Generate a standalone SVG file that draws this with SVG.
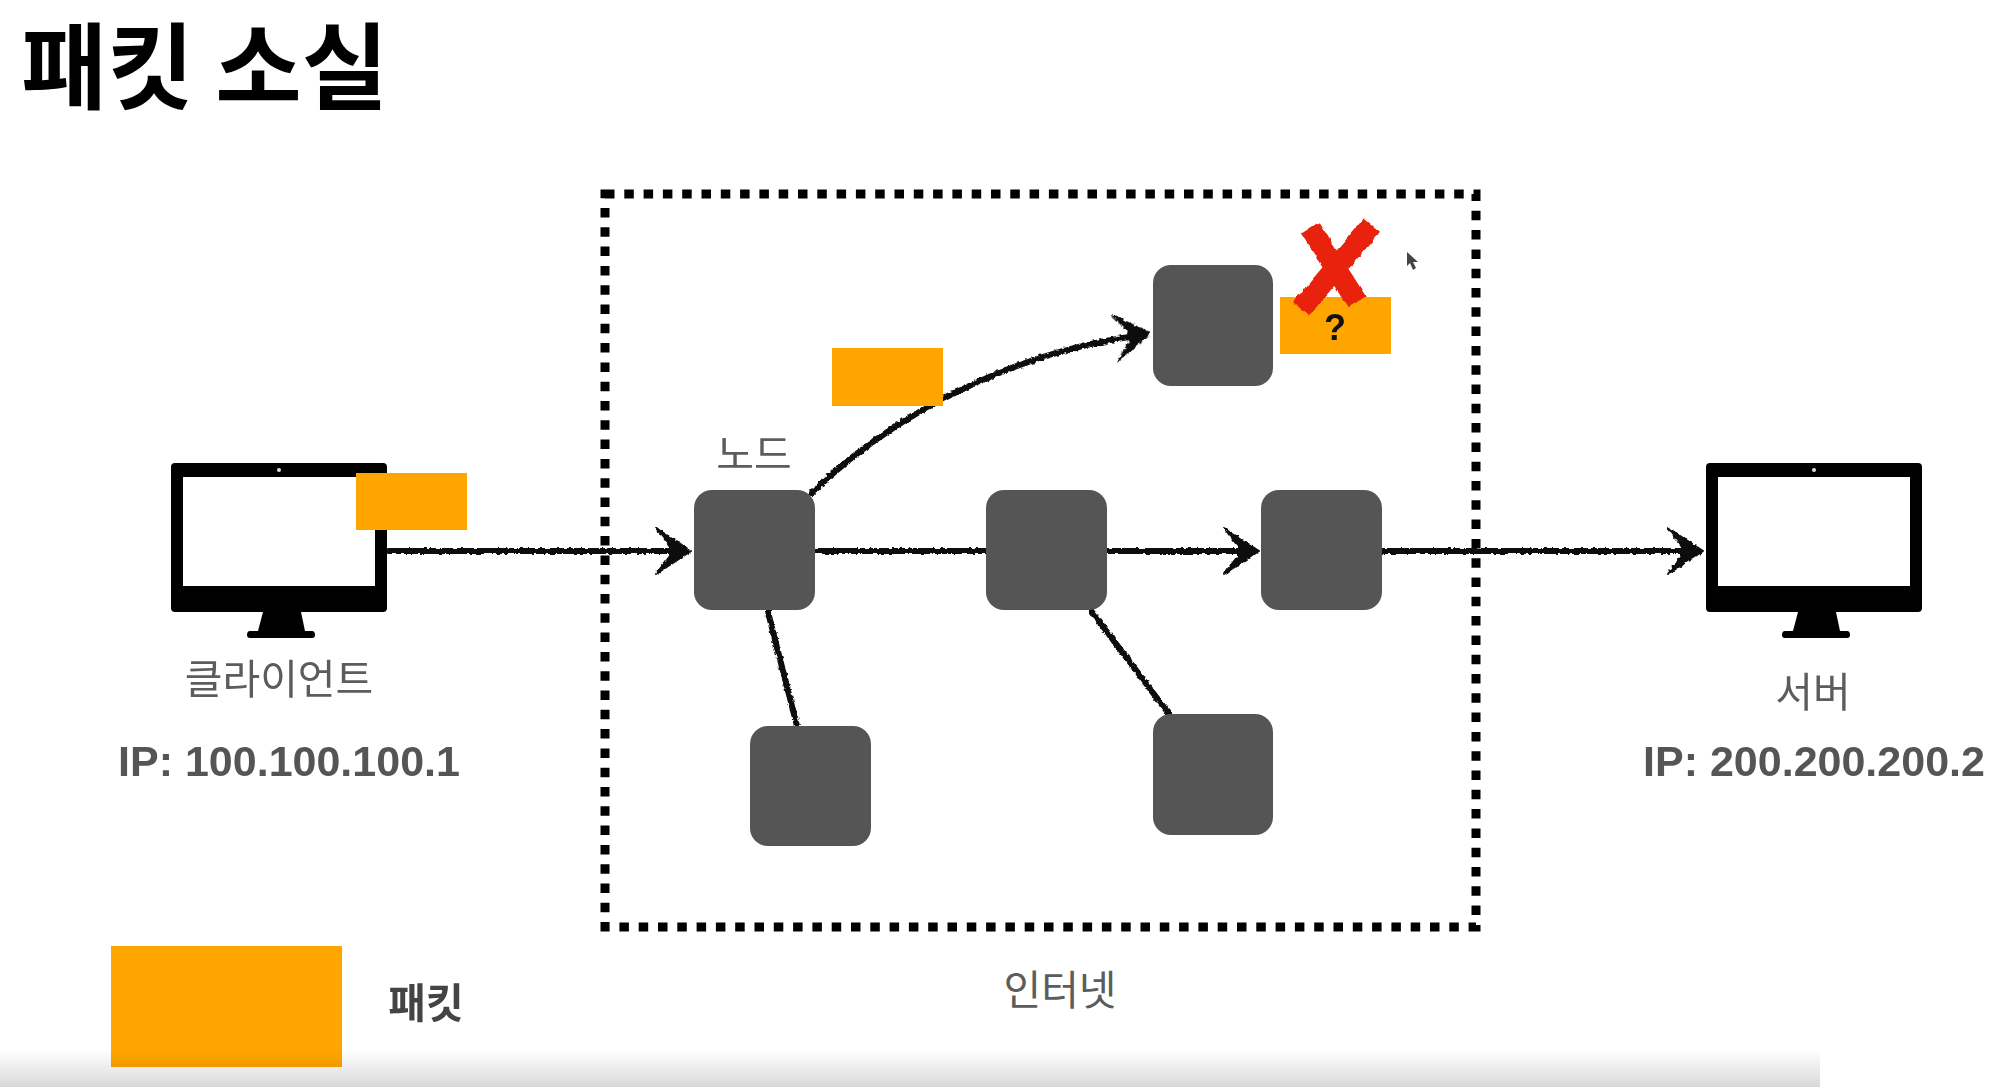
<svg xmlns="http://www.w3.org/2000/svg" width="2000" height="1087" viewBox="0 0 2000 1087">
<defs>
<style>
.node{fill:#555;}
.pkt{fill:#ffa500;}
.lbl{font-family:"Noto Sans CJK KR","Liberation Sans",sans-serif;fill:#5c5c5c;font-size:41px;text-anchor:middle;}
.ip{font-family:"Liberation Sans","Noto Sans CJK KR",sans-serif;fill:#555;font-size:43px;font-weight:700;text-anchor:middle;}
.line{fill:none;stroke:#0a0a0a;stroke-width:6;stroke-linecap:round;}
.head{fill:#0a0a0a;stroke:#0a0a0a;stroke-width:2;stroke-linejoin:round;}
</style>
<linearGradient id="fade" x1="0" y1="0" x2="0" y2="1"><stop offset="0" stop-color="#000" stop-opacity="0"/><stop offset="1" stop-color="#000" stop-opacity="0.15"/></linearGradient>
<filter id="rough" filterUnits="userSpaceOnUse" x="0" y="0" width="2000" height="1087"><feTurbulence type="fractalNoise" baseFrequency="0.25" numOctaves="2" seed="3"/><feDisplacementMap in="SourceGraphic" scale="4" xChannelSelector="R" yChannelSelector="G"/></filter>
<filter id="roughX" filterUnits="userSpaceOnUse" x="1280" y="200" width="120" height="130"><feTurbulence type="fractalNoise" baseFrequency="0.12" numOctaves="2" seed="5"/><feDisplacementMap in="SourceGraphic" scale="4" xChannelSelector="R" yChannelSelector="G"/></filter>
<path id="head" class="head" d="M-36,-23 L-1,0 L-36,23 L-22,5 L-22,-5 Z"/>
<g id="monitor">
<path fill="#000" fill-rule="evenodd" d="M4,0 H212 Q216,0 216,4 V145 Q216,149 212,149 H130 L134,168 H141 Q144,168 144,172 Q144,175 141,175 H79 Q76,175 76,172 Q76,168 79,168 H87 L92,149 H4 Q0,149 0,145 V4 Q0,0 4,0 Z M12,14 V123 H204 V14 Z"/>
<circle cx="108" cy="7" r="2" fill="#ddd"/>
</g>
</defs>
<rect width="2000" height="1087" fill="#fff"/>
<text id="title" x="21" y="102" font-family="'Noto Sans CJK KR',sans-serif" font-size="94" font-weight="700" fill="#000">패킷 소실</text>
<g id="internet">
<rect x="605" y="194" width="871" height="733" fill="none" stroke="#000" stroke-width="9" stroke-dasharray="9.5 9.8"/>
<text class="lbl" x="1060" y="1005">인터넷</text>
</g>
<g id="connectors">
<g filter="url(#rough)">
<path class="line" d="M389,551 H675"/>
<path class="line" d="M812,493 C880,425 1000,355 1135,336"/>
<path class="line" d="M815,551 H1245"/>
<path class="line" d="M1382,551 H1690"/>
<path class="line" d="M768,612 L797,726"/>
<path class="line" d="M1092,612 L1169,714"/>
<use href="#head" transform="translate(692,551)"/>
<use href="#head" transform="translate(1151,333) rotate(-8)"/>
<use href="#head" transform="translate(1260,551)"/>
<use href="#head" transform="translate(1704,551)"/>
</g>
</g>
<g id="client">
<use href="#monitor" x="171" y="463"/>
<text class="lbl" x="279" y="694">클라이언트</text>
<text class="ip" x="289" y="776">IP: 100.100.100.1</text>
</g>
<g id="server">
<use href="#monitor" x="1706" y="463"/>
<text class="lbl" x="1813" y="707">서버</text>
<text class="ip" x="1814" y="776">IP: 200.200.200.2</text>
</g>
<g id="node-top"><rect class="node" x="1153" y="265" width="120" height="121" rx="18"/></g>
<g id="node-a"><rect class="node" x="694" y="490" width="121" height="120" rx="18"/><text class="lbl" x="754" y="469">노드</text></g>
<g id="node-b"><rect class="node" x="986" y="490" width="121" height="120" rx="18"/></g>
<g id="node-c"><rect class="node" x="1261" y="490" width="121" height="120" rx="18"/></g>
<g id="node-d"><rect class="node" x="750" y="726" width="121" height="120" rx="18"/></g>
<g id="node-e"><rect class="node" x="1153" y="714" width="120" height="121" rx="18"/></g>
<g id="packet-client"><rect class="pkt" x="356" y="473" width="111" height="57"/></g>
<g id="packet-moving"><rect class="pkt" x="832" y="348" width="111" height="58"/></g>
<g id="packet-lost"><rect class="pkt" x="1280" y="297" width="111" height="57"/>
<text x="1335" y="340" font-family="'Liberation Sans',sans-serif" font-size="36" font-weight="700" text-anchor="middle" fill="#111">?</text>
<path filter="url(#roughX)" d="M1310,228 L1357,302 M1372,225 L1301,309" stroke="#e8200f" stroke-width="21" stroke-linecap="butt" fill="none"/>
</g>
<path id="cursor" d="M1407,252 L1407,266 L1410,263 L1413,270 L1416,268 L1413,262 L1418,262 Z" fill="#444"/>
<g id="legend"><rect class="pkt" x="111" y="946" width="231" height="121"/><text x="426" y="1018" font-family="'Noto Sans CJK KR',sans-serif" font-size="41" font-weight="700" text-anchor="middle" fill="#444">패킷</text></g>
<rect id="fade-bar" x="0" y="1050" width="1820" height="37" fill="url(#fade)"/>
</svg>
